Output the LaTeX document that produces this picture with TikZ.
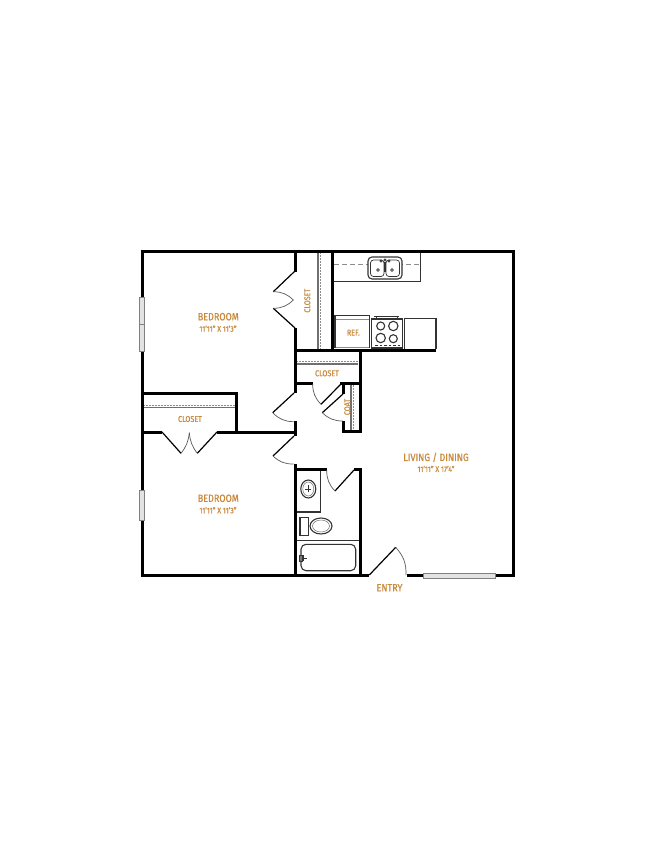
\documentclass[tikz,border=0pt]{standalone}
\usepackage{fontspec}
\setmainfont[FakeStretch=0.86,FakeBold=0.7]{Fira Sans}
\definecolor{lbl}{HTML}{C98A3C}
\definecolor{thinline}{HTML}{333333}
\definecolor{dashline}{HTML}{8C8C8C}
\tikzset{
 wall/.style={line width=3bp,black,line cap=butt,line join=miter},
 fix/.style={line width=1.1bp,thinline},
 fixthin/.style={line width=.7bp,thinline},
 shelf/.style={line width=1.1bp,color=dashline!80!black},
 dotline/.style={line width=.8bp,color=dashline,dash pattern=on 1.6bp off 1.4bp},
 door/.style={line width=1.2bp,black},
 swing/.style={line width=.7bp,color=black!65},
 win/.style={line width=.8bp,draw=black!50,fill=black!11},
 room/.style={text=lbl,font=\fontsize{10.5bp}{12bp}\selectfont,inner sep=0pt},
 dim/.style={text=lbl,font=\fontsize{8bp}{9bp}\selectfont,inner sep=0pt},
 small/.style={text=lbl,font=\fontsize{8.4bp}{9bp}\selectfont,inner sep=0pt},
}
\begin{document}
\begin{tikzpicture}[x=1bp,y=-1bp]
\useasboundingbox (0,0) rectangle (652,844);
\fill[white] (0,0) rectangle (652,844);
% thin fixtures
\draw[shelf] (318,251) -- (318,350);
\draw[dotline] (320.7,252) -- (320.7,349);
\draw[shelf] (296,364) -- (358,364);
\draw[dotline] (296,361.7) -- (358,361.7);
\draw[shelf] (351,385) -- (351,430);
\draw[dotline] (353.7,385) -- (353.7,430);
\draw[shelf] (143,407.7) -- (235,407.7);
\draw[dotline] (143,405.7) -- (235,405.7);
% kitchen
\draw[fix] (333,281.7) -- (420.5,281.7) -- (420.5,251);
\draw[line width=1bp,color=dashline,dash pattern=on 5bp off 3bp] (334,264.7) -- (420,264.7);
\draw[fix,fill=white,rounded corners=4bp] (368,257) rectangle (402,279);
\draw[fixthin,rounded corners=3bp] (370.5,260) rectangle (384,276.5);
\draw[fixthin,rounded corners=3bp] (386,260) rectangle (399.5,276.5);
\draw[fixthin] (378,270) circle (1.4bp) (392,270) circle (1.4bp);
\draw[fix] (385,262) -- (385,272);
\draw[fixthin] (381,261) circle (1.2bp) (389,261) circle (1.2bp) (385,260) circle (1.2bp);
\draw[fix] (335,348) -- (335,315.7) -- (369.7,315.7) -- (369.7,348);
\draw[line width=1.1bp,color=black!45] (335.5,319.3) -- (369,319.3);
\draw[line width=1.1bp,color=black!45] (335.5,347.5) -- (369,347.5);
\draw[fix] (371.7,319) rectangle (402.7,348);
\draw[fix] (374,316.7) -- (399,316.7);
\draw[fixthin] (376,316.7) -- (376,319) (397,316.7) -- (397,319);
\draw[fix] (380.7,326) circle (4bp) (393.3,326) circle (4.7bp) (380.7,338) circle (4.7bp) (393.3,338.7) circle (4bp);
\draw[line width=1.1bp,thinline,dash pattern=on 2.5bp off 2bp] (375,345.7) -- (400,345.7);
\draw[fix] (404.3,349) -- (404.3,318.7) -- (436,318.7) -- (436,349);
% bath
\draw[fix] (295,512) -- (320.7,512) -- (320.7,470);
\draw[fix] (308.3,489) ellipse (7.5bp and 9bp);
\draw[line width=.5bp,thinline!70] (308.3,489) ellipse (5.5bp and 7bp);
\draw[line width=.5bp,thinline] (305,489) -- (311,489) (308,485) -- (308,492);
\draw[fix] (300,517.3) rectangle (308.3,535.7);
\draw[fix] (321,526) ellipse (11bp and 8bp);
\draw[line width=.5bp,thinline!70] (321,526) ellipse (8.5bp and 6bp);
\draw[fix] (295,540.3) -- (359,540.3);
\draw[fix,rounded corners=5bp] (301,544.3) rectangle (355.7,570.7);
\draw[line width=.5bp,thinline] (299.5,555) rectangle (302,561);
\draw[line width=.5bp,thinline] (302,558) -- (307,558) (303,555) -- (303,561);
% walls
\draw[wall] (142,251) -- (142,575) -- (369.3,575);
\draw[wall] (140.5,251) -- (513,251) -- (513,575) -- (406.5,575);
\draw[wall] (295,251) -- (295,272);
\draw[wall] (295,328) -- (295,393);
\draw[wall] (332.5,251) -- (332.5,350);
\draw[wall] (293.5,350) -- (436,350);
\draw[wall] (360,350) -- (360,433.2);
\draw[wall] (293.5,383.3) -- (312.7,383.3);
\draw[wall] (340,383.3) -- (361.5,383.3);
\draw[wall] (343.3,383.3) -- (343.3,394);
\draw[wall] (343.3,421) -- (343.3,431.7) -- (360,431.7);
\draw[wall] (142,393.3) -- (238.2,393.3);
\draw[wall] (236.7,393.3) -- (236.7,432);
\draw[wall] (142,432) -- (161.7,432);
\draw[wall] (217.3,432) -- (295,432);
\draw[wall] (295,421) -- (295,436);
\draw[wall] (295,464) -- (295,575);
\draw[wall] (293.5,469.7) -- (326.7,469.7);
\draw[wall] (354.3,469.7) -- (361.5,469.7);
\draw[wall] (360,469.7) -- (360,575);
% doors
\draw[door] (295,271) -- (273.3,291.7);
\draw[door] (295,328) -- (273.3,308.3);
\draw[swing] (273.3,291.7) to[bend left=22] (293.3,300);
\draw[swing] (273.3,308.3) to[bend right=22] (293.3,300);
\draw[door] (341,384) -- (321,404.3);
\draw[swing] (312.7,384) to[bend right=22] (321,404.3);
\draw[door] (343,394) -- (322.3,412.7);
\draw[swing] (322.3,412.7) to[bend right=22] (343,421);
\draw[door] (294,393) -- (272.7,412.7);
\draw[swing] (272.7,412.7) to[bend right=22] (293.5,421.7);
\draw[door] (294,436) -- (273,456);
\draw[swing] (273,456) to[bend right=22] (293.5,464);
\draw[door] (162,432) -- (181,453.3);
\draw[door] (217,432) -- (197.3,453.3);
\draw[swing] (181,453.3) to[bend right=16] (189.3,432.7);
\draw[swing] (197.3,453.3) to[bend left=16] (189.3,432.7);
\draw[door] (354,470) -- (335,491);
\draw[swing] (326.7,470) to[bend right=22] (335,491);
\draw[door] (369.3,575) -- (395.7,547.3);
\draw[swing] (395.7,547.3) to[bend left=22] (406,575);
% windows
\draw[win] (139.3,297.3) rectangle (144.7,351.7);
\draw[line width=.8bp,color=black!50] (139.3,324) -- (144.7,324);
\draw[win] (139.3,490) rectangle (144.7,520.7);
\draw[win] (423.3,573) rectangle (495.7,578.7);
% labels
\node[room] (bed1) at (218.3,316.7) {BEDROOM};
\node[dim] (bed1d) at (218,328.7) {11'11" X 11'3"};
\node[room] (bed2) at (218.3,498.3) {BEDROOM};
\node[dim] (bed2d) at (218,510.3) {11'11" X 11'3"};
\node[room] (liv) at (436,457.3) {LIVING / DINING};
\node[dim] (livd) at (436,469) {11'11" X 17'4"};
\node[room] (entry) at (389.5,587.7) {ENTRY};
\node[small,rotate=90] (c1) at (307.3,300.7) {CLOSET};
\node[small] (c2) at (327,373.3) {CLOSET};
\node[small] (c3) at (190,419) {CLOSET};
\node[small,rotate=90] (coat) at (347.3,407) {COAT};
\node[small] (ref) at (353.3,332.7) {REF.};
\end{tikzpicture}
\end{document}
